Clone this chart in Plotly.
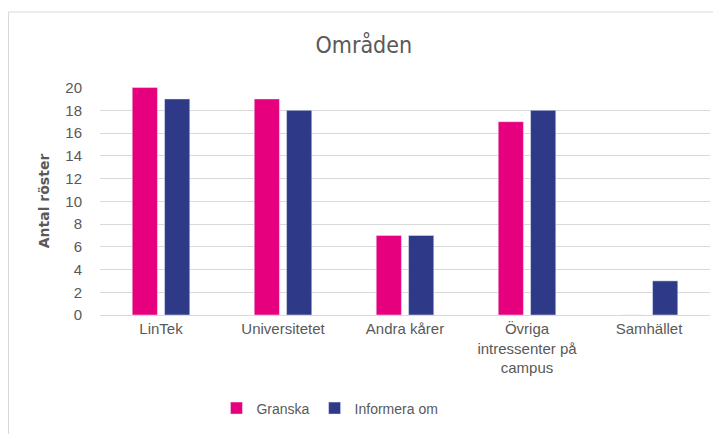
import plotly.graph_objects as go

categories = ["LinTek", "Universitetet", "Andra kårer", "Övriga<br>intressenter på<br>campus", "Samhället"]
granska = [20, 19, 7, 17, 0]
informera = [19, 18, 7, 18, 3]

grey = "#595959"

fig = go.Figure()
fig.add_trace(go.Bar(x=categories, y=granska, name="Granska", marker_color="#E6007E"))
fig.add_trace(go.Bar(x=categories, y=informera, name="Informera om", marker_color="#2E3A87"))

# page body has an 8px margin, so the figure is 8px smaller than the window
fig.update_layout(
    width=713, height=426,
    margin=dict(l=92, r=11, t=79, b=119, autoexpand=False),
    paper_bgcolor="white", plot_bgcolor="white",
    barmode="group", bargap=0.47, bargroupgap=0.22,
    font=dict(family="Liberation Sans, Arial", size=14, color=grey),
    title=dict(text="Områden", x=0.499, xanchor="center", y=0.913, yanchor="middle",
               font=dict(family="DejaVu Sans Condensed, DejaVu Sans", size=23, color=grey)),
    legend=dict(orientation="h", x=0.377, xanchor="center", y=-0.41, yanchor="middle",
                font=dict(size=14, color=grey), itemwidth=30, traceorder="normal"),
    showlegend=True,
)
fig.update_xaxes(showgrid=False, showline=True, linecolor="#D9D9D9", ticks="",
                 tickfont=dict(size=15, color=grey))
fig.update_yaxes(range=[0, 20.05], dtick=2, showgrid=True, gridcolor="#D9D9D9",
                 zeroline=False, ticks="", ticklabelstandoff=17,
                 tickfont=dict(size=15, color=grey),
                 title=dict(text="<b>Antal röster</b>", standoff=12,
                            font=dict(family="DejaVu Sans", size=14, color=grey)))

# outer chart border
fig.add_shape(type="rect", xref="paper", yref="paper",
              x0=-91.5 / 610, x1=1.03, y0=-0.6, y1=(307 - 4) / 228,
              line=dict(color="#D9D9D9", width=1), fillcolor="rgba(0,0,0,0)", layer="below")

fig.write_html("out.html")
